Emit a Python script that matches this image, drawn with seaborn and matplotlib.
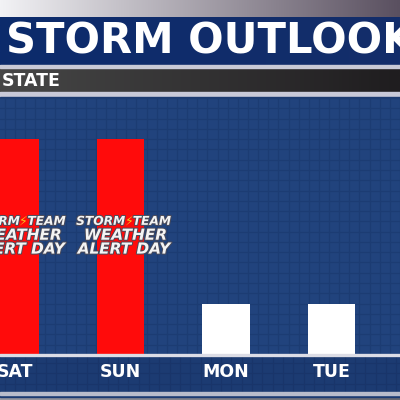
import numpy as np
import matplotlib
matplotlib.use("Agg")
import matplotlib.pyplot as plt
import matplotlib.patheffects as pe
from matplotlib.patches import Rectangle
import seaborn as sns

# ---- data ----
days = ["SAT", "SUN", "MON", "TUE"]
values = [4.2, 4.2, 1.0, 1.0]
bar_colors = ["#ff0b0b", "#ff0b0b", "#ffffff", "#ffffff"]
alert_day = [True, True, False, False]
title_text = "STORM OUTLOOK"
subtitle_text = "STATE"
alert_lines = ["WEATHER", "ALERT DAY"]

sns.set_theme(style="white")
plt.rcParams["font.family"] = ["DejaVu Sans"]

fig = plt.figure(figsize=(4, 4), dpi=100)

# background decoration axes in pixel coordinates
bg = fig.add_axes([0, 0, 1, 1])
bg.set_xlim(0, 400)
bg.set_ylim(400, 0)
bg.axis("off")

def hgrad(ax, y0, y1, c_left, c_right, x0=0, x1=400):
    cl = np.array(matplotlib.colors.to_rgb(c_left))
    cr = np.array(matplotlib.colors.to_rgb(c_right))
    t = np.linspace(0, 1, 256)[None, :, None]
    img = cl[None, None, :] * (1 - t) + cr[None, None, :] * t
    ax.imshow(img, extent=[x0, x1, y1, y0], aspect="auto", zorder=0,
              interpolation="bilinear")

hgrad(bg, 0, 17, "#f2f2f5", "#5a5060")
hgrad(bg, 17, 65, "#0c2b6c", "#142e6a")
bg.add_patch(Rectangle((0, 65), 400, 3, color="#c9cad6", zorder=1))
hgrad(bg, 68, 92, "#474747", "#1f1d1f")
bg.add_patch(Rectangle((0, 92), 400, 5, color="#c8c9d8", zorder=1))
bg.add_patch(Rectangle((0, 97), 400, 300, color="#1c3b72", zorder=1))
for gx in np.arange(4.8, 400, 10.3):
    bg.plot([gx, gx], [357, 392], color="#19356a", lw=0.8, zorder=1.5)
for gy in np.arange(363, 392, 10.3):
    bg.plot([0, 400], [gy, gy], color="#19356a", lw=0.8, zorder=1.5)
bg.add_patch(Rectangle((0, 392), 400, 3, color="#b8bccb", zorder=2))
hgrad(bg, 395, 400, "#9a9aa2", "#6a6a72")
bg.set_xlim(0, 400)
bg.set_ylim(400, 0)

bg.text(6, 41, title_text, color="white", fontsize=30, fontweight="bold",
        ha="left", va="center", zorder=3)
bg.text(2, 80.5, subtitle_text, color="white", fontsize=12.5,
        fontweight="bold", ha="left", va="center", zorder=3)

# main chart axes
ax = fig.add_axes([0, 45 / 400, 1, 257 / 400])
ax.set_facecolor("#21437d")
sns.barplot(x=days, y=values, hue=days, palette=bar_colors, width=0.45,
            saturation=1, legend=False, ax=ax, zorder=3, linewidth=0,
            edgecolor="none")
ax.set_xlim(-0.145, 3.59)
ax.set_ylim(0, 5)
for s in ax.spines.values():
    s.set_visible(False)

ax.set_yticks([])
ax.set_yticks(np.arange(0, 5.01, 0.2), minor=True)
xmin_grid = np.arange(-0.1, 3.7, 0.0962)
ax.set_xticks(xmin_grid, minor=True)
ax.grid(False)
ax.grid(True, which="minor", color="#1c3c73", linewidth=0.9)
ax.tick_params(which="minor", length=0)
ax.tick_params(axis="x", which="major", length=0, pad=5.5, labelsize=12.5,
               labelcolor="white")
for lab in ax.get_xticklabels():
    lab.set_fontweight("bold")
ax.set_xlabel("")
ax.set_ylabel("")
ax.axhline(0, color="#dcdde6", linewidth=2.4, clip_on=False, zorder=5)

stroke = [pe.withStroke(linewidth=1.4, foreground="#4a4a58")]
for i, is_alert in enumerate(alert_day):
    if not is_alert:
        continue
    bx = i + 0.08
    ax.text(bx - 0.035, 2.60, "STORM", color="#f4f4f4", fontsize=8.8,
            fontweight="bold", fontstyle="italic", ha="right", va="center",
            path_effects=stroke, zorder=6)
    ax.text(bx, 2.60, "\u26a1", color="#f5c21a", fontsize=9, ha="center",
            va="center", zorder=6)
    ax.text(bx + 0.035, 2.60, "TEAM", color="#f4f4f4", fontsize=8.8,
            fontweight="bold", fontstyle="italic", ha="left", va="center",
            path_effects=stroke, zorder=6)
    ax.text(i + 0.045, 2.33, alert_lines[0], color="#f4f4f4", fontsize=11,
            fontweight="bold", fontstyle="italic", ha="center", va="center",
            path_effects=stroke, zorder=6)
    ax.text(i + 0.03, 2.06, alert_lines[1], color="#f4f4f4", fontsize=11,
            fontweight="bold", fontstyle="italic", ha="center", va="center",
            path_effects=stroke, zorder=6)

fig.savefig("out.png", dpi=100)
